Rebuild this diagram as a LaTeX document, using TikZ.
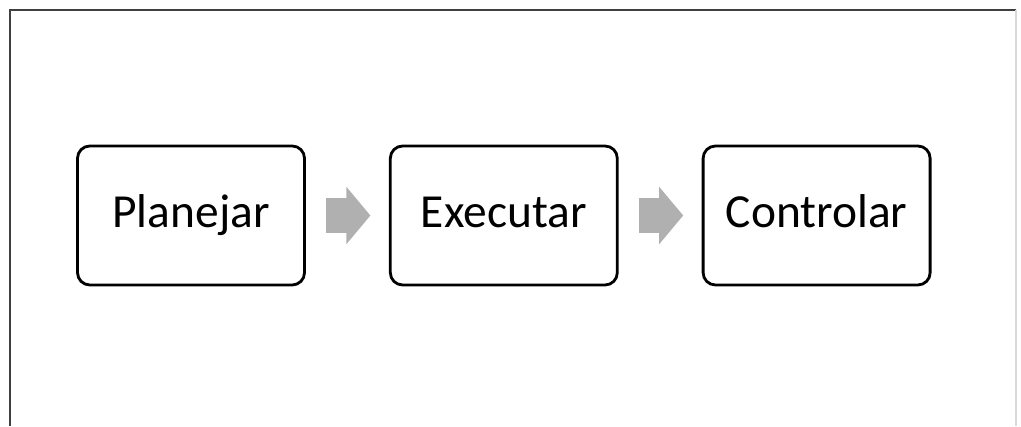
\documentclass[tikz,border=0pt]{standalone}
\usepackage{fontspec}
\setmainfont{Carlito}
\usetikzlibrary{positioning,arrows.meta}

\begin{document}
\begin{tikzpicture}[
        etapa/.style={draw, line width=1.6pt, rounded corners=7pt,
            minimum width=4.54cm, minimum height=2.78cm, inner sep=0pt,
            text height=0.62cm, text depth=0.12cm,
            font=\fontsize{27}{31}\selectfont},
        seta/.style={draw=gray!62, line width=0.7cm,
            -{Triangle[width=1.12cm, length=0.48cm]},
            shorten <=0.4cm, shorten >=0.37cm}
    ]
        \useasboundingbox (0,0) rectangle (20.42,8.52);

        % Moldura
        \draw[line width=1.2pt, black!75] (0.2,0) -- (0.2,8.32) -- (20.32,8.32);
        \draw[line width=0.6pt, black!15] (20.32,8.32) -- (20.32,0);

        % Etapas
        \node[etapa] (planejar) at (3.82,4.21) {Planejar};
        \node[etapa, right=1.66cm of planejar] (executar) {Executar};
        \node[etapa, right=1.66cm of executar] (controlar) {Controlar};

        % Setas entre as etapas
        \draw[seta] (planejar) -- (executar);
        \draw[seta] (executar) -- (controlar);

    \end{tikzpicture}
\end{document}
